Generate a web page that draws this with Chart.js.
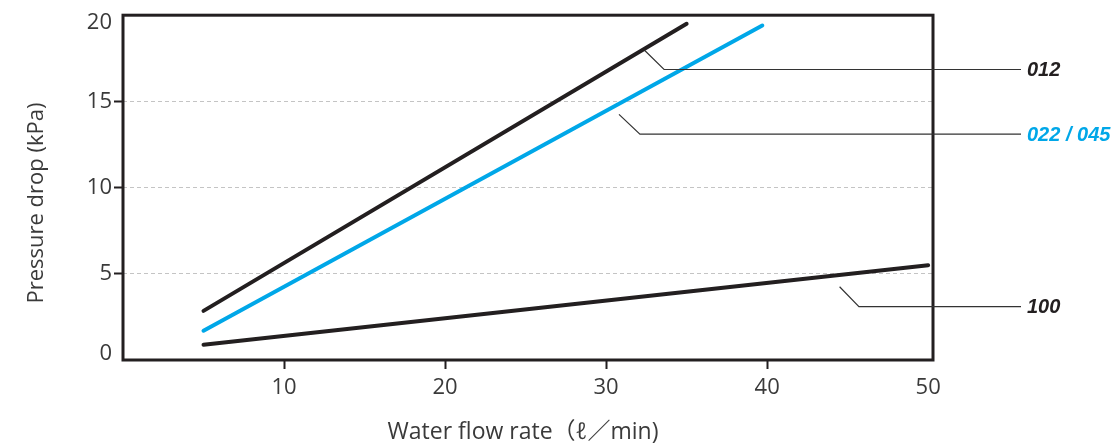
<!DOCTYPE html>
<html>
<head>
<meta charset="utf-8">
<script src="https://cdn.jsdelivr.net/npm/chart.js@4/dist/chart.umd.min.js"></script>
<style>
  html, body { margin: 0; padding: 0; background: #fff; }
  #wrap { width: 1115px; height: 444px; }
</style>
</head>
<body>
<div id="wrap"><canvas id="chart" width="1115" height="444"></canvas></div>
<script>
// values
const flow012 = [5, 35];
const drop012 = [2.85, 19.5];
const flow022 = [5, 39.7];
const drop022 = [1.7, 19.4];
const flow100 = [5, 50];
const drop100 = [0.88, 5.5];

const seriesNames = ['012', '022 / 045', '100'];
const xTicks = [10, 20, 30, 40, 50];
const yTicks = [0, 5, 10, 15, 20];

const xTitle = 'Water flow rate（ℓ／min)';
const yTitle = 'Pressure drop (kPa)';

const BLACK = '#231f20';
const BLUE = '#00a7e8';
const TEXT = '#3a3a3a';
const FONT = "'Open Sans', 'Noto Sans CJK JP', sans-serif";

const toPoints = (xs, ys) => xs.map((x, i) => ({ x: x, y: ys[i] }));

// leader lines: point on the curve, elbow (data units), then out to the label
const leaders = [
    { name: seriesNames[0], color: BLACK, from: [32.4, 17.95], elbow: [33.6, 16.85] },
    { name: seriesNames[1], color: BLUE, from: [30.8, 14.25], elbow: [32.1, 13.1] },
    { name: seriesNames[2], color: BLACK, from: [44.5, 4.25], elbow: [45.7, 3.1] }
];

const extras = {
    id: 'extras',
    afterDraw(chart) {
        const ctx = chart.ctx;
        const a = chart.chartArea;
        const xs = chart.scales.x;
        const ys = chart.scales.y;
        ctx.save();

        // frame
        ctx.strokeStyle = BLACK;
        ctx.lineWidth = 3;
        ctx.strokeRect(a.left, a.top, a.right - a.left, a.bottom - a.top);

        // end labels of y axis sit inside the frame edges
        ctx.fillStyle = TEXT;
        ctx.font = '22px ' + FONT;
        ctx.textAlign = 'right';
        ctx.textBaseline = 'middle';
        ctx.fillText(String(yTicks[0]), a.left - 11, ys.getPixelForValue(yTicks[0]) - 6);
        ctx.fillText(String(yTicks[yTicks.length - 1]), a.left - 11, ys.getPixelForValue(yTicks[yTicks.length - 1]) + 8);

        // axis titles
        ctx.font = '23px ' + FONT;
        ctx.textAlign = 'center';
        ctx.fillText(xTitle, (a.left + a.right) / 2 - 5, 432);
        ctx.save();
        ctx.translate(37, 203);
        ctx.rotate(-Math.PI / 2);
        ctx.font = '22px ' + FONT;
        ctx.fillText(yTitle, 0, 0);
        ctx.restore();

        // leader lines and series names
        leaders.forEach(l => {
            const x0 = xs.getPixelForValue(l.from[0]);
            const y0 = ys.getPixelForValue(l.from[1]);
            const x1 = xs.getPixelForValue(l.elbow[0]);
            const y1 = ys.getPixelForValue(l.elbow[1]);
            const x2 = a.right + 88;
            ctx.strokeStyle = '#333';
            ctx.lineWidth = 1.2;
            ctx.beginPath();
            ctx.moveTo(x0, y0);
            ctx.lineTo(x1, y1);
            ctx.lineTo(x2, y1);
            ctx.stroke();
            ctx.fillStyle = l.color;
            ctx.font = "italic bold 20px 'Liberation Sans', Arial, sans-serif";
            ctx.textAlign = 'left';
            ctx.textBaseline = 'middle';
            ctx.fillText(l.name, x2 + 6, y1 + 1);
        });
        ctx.restore();
    }
};

const lineStyle = { borderWidth: 4, pointRadius: 0, borderCapStyle: 'round', tension: 0, fill: false };

new Chart(document.getElementById('chart').getContext('2d'), {
    type: 'line',
    data: {
        datasets: [
            Object.assign({ label: seriesNames[0], data: toPoints(flow012, drop012), borderColor: BLACK }, lineStyle),
            Object.assign({ label: seriesNames[1], data: toPoints(flow022, drop022), borderColor: BLUE }, lineStyle),
            Object.assign({ label: seriesNames[2], data: toPoints(flow100, drop100), borderColor: BLACK }, lineStyle)
        ]
    },
    options: {
        responsive: false,
        animation: false,
        layout: { padding: { top: 15, right: 182, left: 0, bottom: 0 } },
        plugins: { legend: { display: false }, tooltip: { enabled: false } },
        scales: {
            x: {
                type: 'linear',
                min: 0,
                max: 50.3,
                afterFit: s => { s.height = 84; },
                afterBuildTicks: s => { s.ticks = xTicks.map(v => ({ value: v })); },
                border: { display: false },
                grid: {
                    drawOnChartArea: false,
                    tickLength: 9,
                    tickWidth: 2,
                    tickColor: c => (c.tick && c.tick.value < 50 ? BLACK : 'rgba(0,0,0,0)')
                },
                ticks: { color: TEXT, font: { family: FONT, size: 22 }, padding: 6, maxRotation: 0 }
            },
            y: {
                min: 0,
                max: 20,
                afterFit: s => { s.width = 123; },
                afterBuildTicks: s => { s.ticks = yTicks.map(v => ({ value: v })); },
                border: { display: false, dash: [4, 3] },
                grid: {
                    color: c => (c.tick && c.tick.value > 0 && c.tick.value < 20 ? '#c4c4c4' : 'rgba(0,0,0,0)'),
                    lineWidth: 1,
                    tickLength: 9,
                    tickWidth: 2,
                    tickBorderDash: [],
                    tickColor: c => (c.tick && c.tick.value > 0 && c.tick.value < 20 ? BLACK : 'rgba(0,0,0,0)')
                },
                ticks: {
                    color: c => (c.tick && c.tick.value > 0 && c.tick.value < 20 ? TEXT : 'rgba(0,0,0,0)'),
                    font: { family: FONT, size: 22 },
                    padding: 2
                }
            }
        }
    },
    plugins: [extras]
});
</script>
</body>
</html>
